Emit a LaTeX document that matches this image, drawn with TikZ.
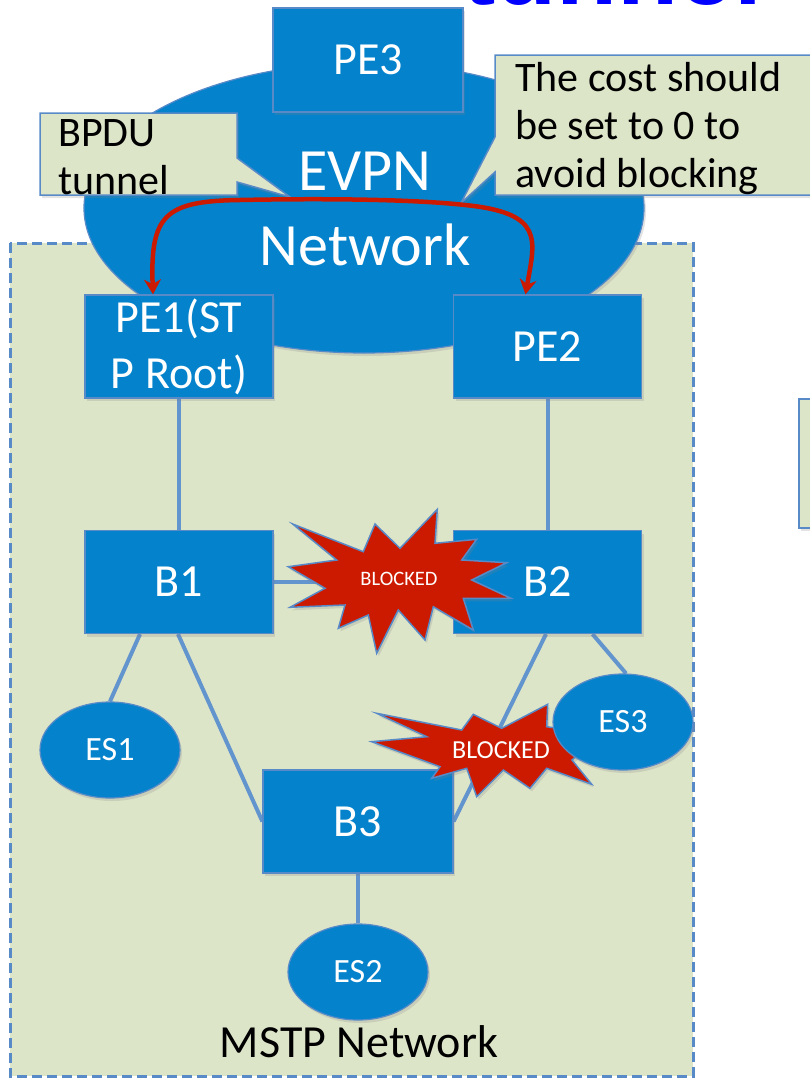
\documentclass[tikz,border=0pt]{standalone}
\usepackage{fontspec}
\setmainfont{Carlito}
\newfontfamily\titlefont{Liberation Sans}
\usetikzlibrary{shapes.geometric,arrows.meta,shadows}

\definecolor{boxblue}{RGB}{4,131,204}
\definecolor{edgeblue}{RGB}{88,138,200}
\definecolor{linkblue}{RGB}{98,148,205}
\definecolor{zonegreen}{RGB}{221,229,201}
\definecolor{alertred}{RGB}{204,26,0}
\definecolor{titleblue}{RGB}{0,0,255}

\newcommand\fsz[2]{\fontsize{#1}{#2}\selectfont}

\pgfdeclarelayer{back}
\pgfdeclarelayer{links}
\pgfsetlayers{back,links,main}

\tikzset{
  softshadow/.style={drop shadow={opacity=0.22, shadow xshift=2pt, shadow yshift=-3pt}},
  devbox/.style={rectangle, fill=boxblue, draw=edgeblue, line width=1.2pt,
    text=white, minimum width=188pt, minimum height=103pt, inner sep=0pt,
    align=center, font=\fsz{46}{56}, softshadow},
  hostnode/.style={ellipse, fill=boxblue, draw=edgeblue, line width=1.2pt,
    text=white, minimum width=140pt, minimum height=96pt, inner sep=0pt,
    font=\fsz{34}{40}, softshadow},
  link/.style={draw=linkblue, line width=4pt},
  note/.style={fill=zonegreen, draw=edgeblue, line width=1.5pt, softshadow},
  notetext/.style={align=left, inner sep=0pt, text=black, font=\fsz{42}{48}},
  burst/.style={fill=alertred, draw=edgeblue, line width=1.5pt, line join=miter, softshadow},
  bursttext/.style={text=white, inner sep=0pt},
  zone/.style={fill=zonegreen, draw=edgeblue, line width=3pt, dash pattern=on 10pt off 5pt},
  cloud/.style={fill=boxblue, draw=edgeblue, line width=1.2pt, softshadow},
  tunnelarrow/.style={draw=alertred, line width=4.5pt,
    {Stealth[length=15pt,width=17pt]}-{Stealth[length=15pt,width=17pt]}},
}

\begin{document}
\begin{tikzpicture}[x=1pt, y=-1pt]
\useasboundingbox (0,0) rectangle (809,1079);

% title line running off the top edge
\node[anchor=base west, inner sep=0pt, text=titleblue,
      font=\titlefont\bfseries\fsz{100}{100}] (title) at (462,4) {tunnel};

% MSTP area and EVPN cloud
\begin{pgfonlayer}{back}
  \draw[zone] (10,243) rectangle (693,1076);
  \draw[cloud] (364,208) ellipse [x radius=280pt, y radius=145pt];
\end{pgfonlayer}
\node[text=white, align=center, inner sep=0pt, font=\fsz{60}{75}] (evpn) at (365,209) {EVPN\\Network};

% provider edges
\node[devbox, minimum width=190pt, minimum height=104pt] (PE3) at (368,60) {PE3};
\node[devbox] (PE1) at (179,346.5) {PE1(ST\\P Root)};
\node[devbox] (PE2) at (547.5,346.5) {PE2};

% bridges
\node[devbox] (B1) at (179,582) {B1};
\node[devbox] (B2) at (547.5,582) {B2};
\node[devbox, minimum width=190pt] (B3) at (358,821.5) {B3};

% end stations
\node[hostnode] (ES1) at (110,750) {ES1};
\node[hostnode] (ES2) at (358,972) {ES2};

% blocked port markers
\draw[burst] (292.7,524) -- (363.3,551.7) -- (375,524) -- (400,548.3) -- (437.3,509.3)
  -- (435,543.3) -- (476.7,539.3) -- (461.7,560) -- (506.7,562.7) -- (471.7,580)
  -- (511,598.3) -- (463.3,598.3) -- (473.3,630) -- (433.3,606.7) -- (425,640)
  -- (398.3,610) -- (376.7,653.3) -- (368.3,615) -- (338.3,628.3) -- (345,605)
  -- (290,607.3) -- (325,588.3) -- (288.3,566.7) -- (336.7,560) -- cycle;
\node[bursttext, font=\fsz{20.5}{24}] (blk1) at (399,579) {BLOCKED};

\draw[burst] (376.7,713.3) -- (461.7,730) -- (473.3,714.3) -- (501.7,728.3) -- (547.7,704.3)
  -- (546.7,726.7) -- (600,735) -- (572,760) -- (591.7,784.3) -- (546.7,768.3)
  -- (530,788.3) -- (503.3,770) -- (476.7,796.7) -- (466.7,768.3) -- (431.7,778.3)
  -- (440,766.7) -- (371.7,741.7) -- (426.7,736.7) -- cycle;
\node[bursttext, font=\fsz{26}{30}] (blk2) at (501,750) {BLOCKED};

\node[hostnode] (ES3) at (623,722) {ES3};

% links
\begin{pgfonlayer}{links}
  \draw[link] (PE1.south) -- (B1.north);
  \draw[link] (PE2.south) -- (B2.north);
  \draw[link] (B1.east) -- (B2.west);
  \draw[link] ([xshift=-39pt]B1.south) -- (ES1.north);
  \draw[link] ([xshift=-1pt]B1.south) -- (B3.west);
  \draw[link] ([xshift=-1.5pt]B2.south) -- (B3.east);
  \draw[link] ([xshift=45pt]B2.south) -- ([xshift=3pt]ES3.north);
  \draw[link] (B3.south) -- (ES2.north);
\end{pgfonlayer}

% area caption
\node[anchor=base, inner sep=0pt, font=\fsz{46}{56}] (mstp) at (359,1057) {MSTP Network};

% call-outs
\draw[note] (40,113) -- (237,113) -- (237,158) -- (290,197) -- (237,182)
  -- (237,195) -- (40,195) -- cycle;
\node[notetext, anchor=north west] (bpdu) at (58,119) {BPDU\\tunnel};

\draw[note] (495,55) -- (830,55) -- (830,195) -- (495,195) -- (495,172)
  -- (461,203) -- (495,137) -- cycle;
\node[notetext, anchor=north west] (cost) at (515,62) {The cost should\\be set to 0 to\\avoid blocking};

\draw[note] (799,399) rectangle (830,528);

% BPDU tunnel between the two PEs
\draw[tunnelarrow] ([xshift=-26pt]PE1.north) .. controls (150,215) and (165,201) .. (240,200)
  .. controls (340,198) and (420,200) .. (465,205)
  .. controls (545,213) and (535,240) .. ([xshift=-22pt]PE2.north);
\end{tikzpicture}
\end{document}
